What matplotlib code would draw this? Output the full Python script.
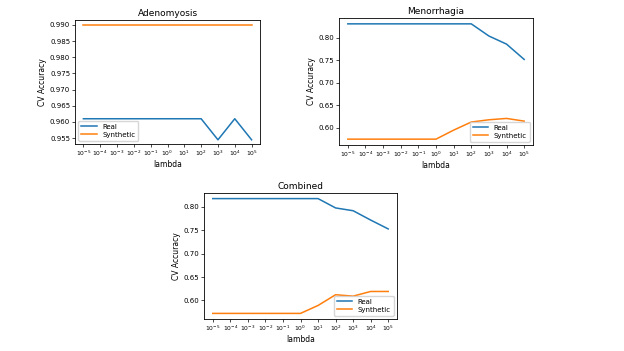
import numpy as np
import matplotlib
matplotlib.use('Agg')
import matplotlib.pyplot as plt

lambdas = [-5, -4, -3, -2, -1, 0, 1, 2, 3, 4, 5]
tick_labels = [r'$10^{%d}$' % p for p in lambdas]

adeno_real = [0.961, 0.961, 0.961, 0.961, 0.961, 0.961, 0.961, 0.961, 0.9545, 0.961, 0.9545]
adeno_synth = [0.990] * 11

meno_real = [0.831, 0.831, 0.831, 0.831, 0.831, 0.831, 0.831, 0.831, 0.804, 0.786, 0.752]
meno_synth = [0.575, 0.575, 0.575, 0.575, 0.575, 0.575, 0.595, 0.613, 0.618, 0.621, 0.615]

comb_real = [0.818, 0.818, 0.818, 0.818, 0.818, 0.818, 0.818, 0.798, 0.792, 0.772, 0.753]
comb_synth = [0.572, 0.572, 0.572, 0.572, 0.572, 0.572, 0.589, 0.612, 0.609, 0.619, 0.619]

plt.rcParams['font.size'] = 5.5

W, H = 624, 351
fig = plt.figure(figsize=(W / 100, H / 100), dpi=100)


def panel(rect, title, real, synth, legend_loc, yticks):
    l, t, r, b = rect
    ax = fig.add_axes([l / W, 1 - b / H, (r - l) / W, (b - t) / H])
    x = np.arange(len(lambdas))
    ax.plot(x, real, color='#1f77b4', linewidth=1.1, label='Real')
    ax.plot(x, synth, color='#ff7f0e', linewidth=1.1, label='Synthetic')
    ax.set_xticks(x)
    ax.set_xticklabels(tick_labels)
    ax.set_yticks(yticks)
    ax.set_title(title, fontsize=6.5, pad=3)
    ax.set_xlabel('lambda', fontsize=5.5, labelpad=1)
    ax.set_ylabel('CV Accuracy', fontsize=5.5, labelpad=2)
    ax.tick_params(length=2, width=0.5, pad=1.5)
    ax.tick_params(axis='x', labelsize=4.3)
    ax.tick_params(axis='y', labelsize=5)
    for s in ax.spines.values():
        s.set_linewidth(0.6)
    ax.legend(loc=legend_loc, fontsize=5, handlelength=2.2, borderpad=0.4,
              labelspacing=0.3, framealpha=0.8)
    return ax


ax1 = panel((75, 20, 260, 144), 'Adenomyosis', adeno_real, adeno_synth, 'lower left',
            [0.955, 0.960, 0.965, 0.970, 0.975, 0.980, 0.985, 0.990])
ax1.set_yticklabels(['%.3f' % v for v in ax1.get_yticks()])
ax1.set_ylim(0.9532, 0.9915)

ax2 = panel((339, 18, 533, 145), 'Menorrhagia', meno_real, meno_synth, 'lower right',
            [0.60, 0.65, 0.70, 0.75, 0.80])
ax2.set_ylim(0.562, 0.844)

ax3 = panel((204, 193, 397, 319), 'Combined', comb_real, comb_synth, 'lower right',
            [0.60, 0.65, 0.70, 0.75, 0.80])
ax3.set_ylim(0.560, 0.830)

plt.savefig('out.png', dpi=100)
plt.close()
